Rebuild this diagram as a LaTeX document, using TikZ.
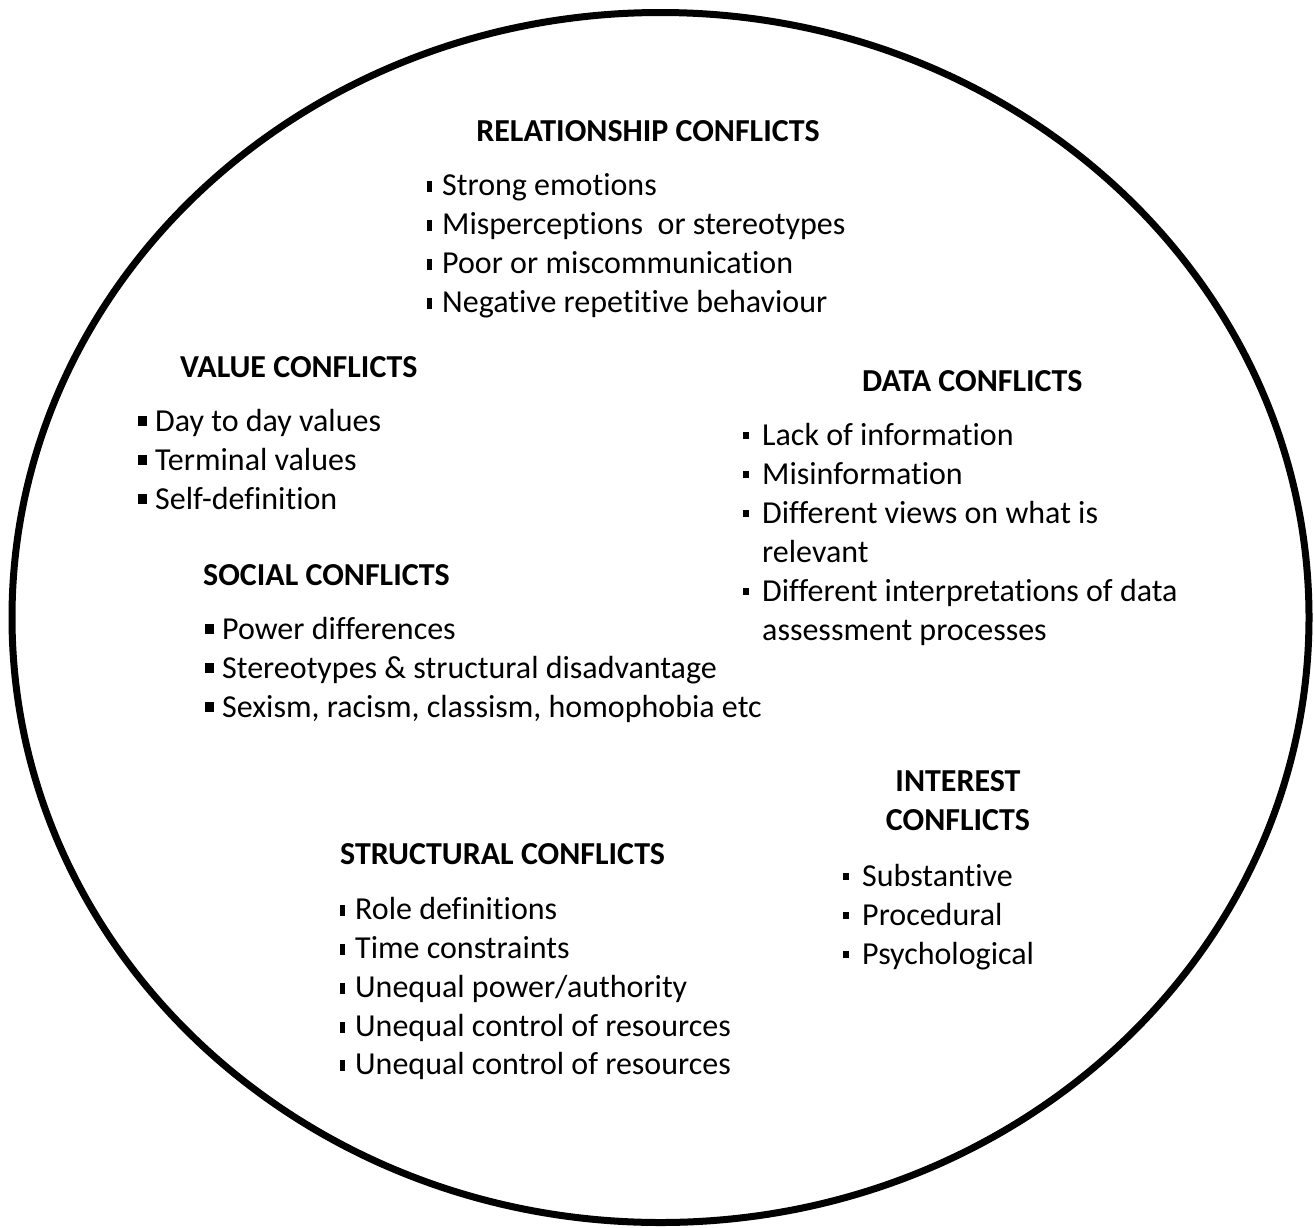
\documentclass[tikz,border=0pt]{standalone}
\usepackage{fontspec}
\setmainfont[Ligatures={NoCommon}]{Carlito}
\newcommand\bfnt{\fontsize{32}{39}\selectfont}
\newcommand\hfnt{\fontsize{32}{39}\selectfont\bfseries}
\newcommand\bulA{\makebox[15pt][l]{\rule[3pt]{4.5pt}{11pt}}}
\newcommand\bulB{\makebox[17pt][l]{\rule[5.5pt]{9pt}{10pt}}}
\newcommand\bulC{\makebox[19pt][l]{\rule[6pt]{5.5pt}{7pt}}}
\begin{document}
\begin{tikzpicture}[x=1pt,y=-1pt,
  head/.style={font=\hfnt,inner sep=0pt,anchor=base west,yshift=-2pt},
  chead/.style={font=\hfnt,inner sep=0pt,anchor=base,yshift=-2pt},
  item/.style={font=\bfnt,inner sep=0pt,anchor=base west,yshift=-2pt}]
\useasboundingbox (0,0) rectangle (1314,1227);
\draw[line width=7pt] (660.5,617.5) ellipse [x radius=648.5, y radius=605];
% relationship
\node[chead] (rh) at (648,139) {RELATIONSHIP CONFLICTS};
\node[item] (r1) at (427,193) {\bulA Strong emotions};
\node[item] (r2) at (427,232) {\bulA Misperceptions\ \ or stereotypes};
\node[item] (r3) at (427,271) {\bulA Poor or miscommunication};
\node[item] (r4) at (427,310) {\bulA Negative repetitive behaviour};
% value
\node[head] (vh) at (180,375) {VALUE CONFLICTS};
\node[item] (v1) at (138,429) {\bulB Day to day values};
\node[item] (v2) at (138,468) {\bulB Terminal values};
\node[item] (v3) at (138,507) {\bulB Self-definition};
% data
\node[head] (dh) at (862,389) {DATA CONFLICTS};
\node[item] (d1) at (743,443) {\bulC Lack of information};
\node[item] (d2) at (743,482) {\bulC Misinformation};
\node[item] (d3) at (743,521) {\bulC Different views on what is};
\node[item] (d3b) at (762,560) {relevant};
\node[item] (d4) at (743,599) {\bulC Different interpretations of data};
\node[item] (d4b) at (762,638) {assessment processes};
% social
\node[head] (sh) at (203,583) {SOCIAL CONFLICTS};
\node[item] (s1) at (205,637) {\bulB Power differences};
\node[item] (s2) at (205,676) {\bulB Stereotypes \& structural disadvantage};
\node[item] (s3) at (205,715) {\bulB Sexism, racism, classism, homophobia etc};
% interest
\node[chead] (ih1) at (958,789) {INTEREST};
\node[chead] (ih2) at (958,828) {CONFLICTS};
\node[item] (i1) at (843,884) {\bulC Substantive};
\node[item] (i2) at (843,923) {\bulC Procedural};
\node[item] (i3) at (843,962) {\bulC Psychological};
% structural
\node[head] (th) at (340,862) {STRUCTURAL CONFLICTS};
\node[item] (t1) at (340,917) {\bulA Role definitions};
\node[item] (t2) at (340,956) {\bulA Time constraints};
\node[item] (t3) at (340,995) {\bulA Unequal power/authority};
\node[item] (t4) at (340,1034) {\bulA Unequal control of resources};
\node[item] (t5) at (340,1072) {\bulA Unequal control of resources};
\end{tikzpicture}
\end{document}
